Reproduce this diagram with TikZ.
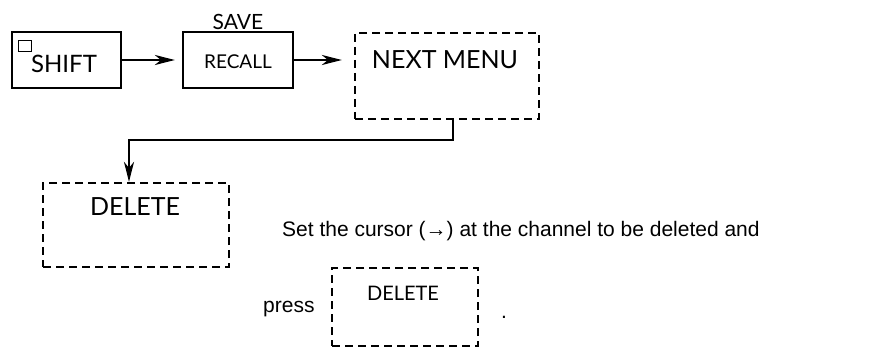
\documentclass[tikz,border=0pt]{standalone}
\usepackage{fontspec}
\setmainfont{Liberation Sans}
\newfontfamily\keyfont{Lato}
\usetikzlibrary{arrows.meta}
\begin{document}
\begin{tikzpicture}[x=1pt,y=-1pt,
  keybox/.style={draw,line width=2.2pt,inner sep=0pt},
  menubox/.style={draw,line width=2.2pt,dash pattern=on 8pt off 5pt,inner sep=0pt},
  arr/.style={line width=2.2pt,-{Stealth[length=20pt,width=10pt,inset=6pt]}}]
\useasboundingbox (0,0) rectangle (896,350);
% boxes
\node[keybox,minimum width=109pt,minimum height=56pt] (shift) at (66.5,60) {};
\node[keybox,minimum width=110pt,minimum height=56pt] (recall) at (238,60) {};
\node[menubox,minimum width=184pt,minimum height=86pt] (next) at (447,76) {};
\node[menubox,minimum width=186pt,minimum height=84pt] (del1) at (136,225) {};
\node[menubox,minimum width=146pt,minimum height=78pt] (del2) at (405,307) {};
% small square in SHIFT key
\node[draw,line width=1.6pt,minimum width=13pt,minimum height=11pt,inner sep=0pt] (sq) at (25,46) {};
% labels
\node[inner sep=0pt,font=\keyfont\fontsize{24}{24}\selectfont] (tshift) at (64,64) {SHIFT};
\node[inner sep=0pt,font=\keyfont\fontsize{21}{21}\selectfont] (tsave) at (238,22) {SAVE};
\node[inner sep=0pt,font=\keyfont\fontsize{19}{19}\selectfont] (trecall) at (238,62) {RECALL};
\node[inner sep=0pt,font=\keyfont\fontsize{25}{25}\selectfont] (tnext) at (445,60) {NEXT MENU};
\node[inner sep=0pt,font=\keyfont\fontsize{25}{25}\selectfont] (tdel1) at (135,207) {DELETE};
\node[inner sep=0pt,font=\keyfont\fontsize{20}{20}\selectfont] (tdel2) at (403,293) {DELETE};
\node[inner sep=0pt,anchor=base west,font=\fontsize{21}{21}\selectfont] (tset) at (282,236) {Set the cursor (→) at the channel to be deleted and};
\node[inner sep=0pt,anchor=base west,font=\fontsize{21}{21}\selectfont] (tpress) at (263,312) {press};
\node[inner sep=0pt,anchor=base west,font=\fontsize{21}{21}\selectfont] (tdot) at (501,318) {.};
% connectors
\draw[arr] (shift.east) -- ([xshift=-7pt]recall.west);
\draw[arr] (recall.east) -- ([xshift=-12pt]next.west |- recall.east);
\coordinate (c1) at (453,140);
\coordinate (c2) at (129,140);
\draw[arr] (c1 |- next.south) -- (c1) -- (c2) -- (c2 |- del1.north);
\end{tikzpicture}
\end{document}
